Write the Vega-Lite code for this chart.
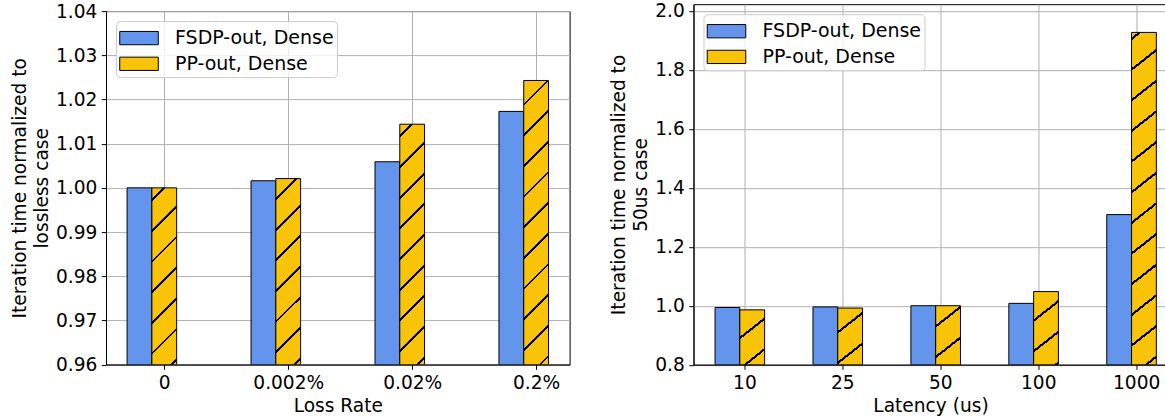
{
  "$schema": "https://vega.github.io/schema/vega-lite/v6.json",
  "padding": {"left": 9, "top": 1.2, "right": 0, "bottom": 0},
  "background": "white",
  "config": {
    "font": "DejaVu Sans",
    "view": {"stroke": "black", "strokeWidth": 1},
    "axis": {
      "labelFont": "DejaVu Sans", "labelFontSize": 18.6, "labelColor": "black",
      "titleFont": "DejaVu Sans", "titleFontSize": 18.6, "titleFontWeight": "normal", "titleColor": "black",
      "tickColor": "black", "tickSize": 4.7, "tickWidth": 1, "labelPadding": 4.5,
      "domainColor": "black", "domainWidth": 1,
      "gridColor": "#b0b0b0", "gridWidth": 1, "grid": true, "zindex": 1,
      "titleLineHeight": 22.3
    },
    "legend": {
      "orient": "top-left", "offset": 10, "title": null,
      "labelFont": "DejaVu Sans", "labelFontSize": 19, "labelColor": "black",
      "symbolType": "M-1.45,-0.5H1.45V0.5H-1.45Z", "symbolSize": 707,
      "symbolStrokeColor": "black", "symbolStrokeWidth": 1, "symbolOpacity": 1,
      "padding": 3, "rowPadding": 1.7, "labelOffset": 22, "symbolOffset": 6,
      "fillColor": "rgba(255,255,255,0.8)", "strokeColor": "#cccccc", "cornerRadius": 4
    },
    "concat": {"spacing": 37.5}
  },
  "resolve": {"scale": {"fill": "independent"}, "legend": {"fill": "independent"}},
  "hconcat": [
    {
      "spacing": -5.1,
      "resolve": {"scale": {"fill": "independent"}, "legend": {"fill": "independent"}},
      "vconcat": [
        {
          "width": 1, "height": 1,
          "data": {"values": []},
          "mark": {"type": "point"},
          "encoding": {},
          "view": {"stroke": "transparent"}
        },
        {
          "width": 463.6, "height": 353.5,
          "data": {"values": [
            {"cat": "0", "series": "FSDP-out, Dense", "value": 1.0},
            {"cat": "0", "series": "PP-out, Dense", "value": 1.0},
            {"cat": "0.002%", "series": "FSDP-out, Dense", "value": 1.0016},
            {"cat": "0.002%", "series": "PP-out, Dense", "value": 1.0021},
            {"cat": "0.02%", "series": "FSDP-out, Dense", "value": 1.0059},
            {"cat": "0.02%", "series": "PP-out, Dense", "value": 1.0144},
            {"cat": "0.2%", "series": "FSDP-out, Dense", "value": 1.0173},
            {"cat": "0.2%", "series": "PP-out, Dense", "value": 1.0243}
          ]},
          "mark": {"type": "bar", "stroke": "black", "strokeWidth": 1, "clip": true},
          "encoding": {
            "x": {"field": "cat", "type": "nominal", "sort": ["0", "0.002%", "0.02%", "0.2%"],
              "scale": {"paddingInner": 0.6, "paddingOuter": 0.17},
              "axis": {"title": "Loss Rate", "labelAngle": 0, "bandPosition": 0.5, "tickOffset": 12.4, "titlePadding": 4}},
            "xOffset": {"field": "series", "type": "nominal", "sort": ["FSDP-out, Dense", "PP-out, Dense"],
              "scale": {"paddingInner": 0, "paddingOuter": 0}},
            "y": {"field": "value", "type": "quantitative",
              "scale": {"domain": [0.96, 1.04], "nice": false, "zero": false},
              "axis": {"values": [0.96, 0.97, 0.98, 0.99, 1.0, 1.01, 1.02, 1.03, 1.04], "format": ".2f",
                "title": ["Iteration time normalized to", "lossless case"], "titlePadding": 4}},
            "y2": {"datum": 0.96},
            "fill": {
              "field": "series", "type": "nominal",
              "scale": {"domain": ["FSDP-out, Dense", "PP-out, Dense"], "range": ["#6495ED", "#F9C308"]},
              "legend": {"symbolStrokeColor": "black", "symbolStrokeWidth": 1},
              "condition": [
                {"test": "datum.series === 'PP-out, Dense' && datum.cat === '0'", "value":
                  {"gradient": "linear", "x1": 0, "y1": 0, "x2": 0.1567, "y2": 1.1182, "stops": [
                    {"offset": 0, "color": "#F9C308"},
                    {"offset": 0.0550, "color": "#F9C308"}, {"offset": 0.0550, "color": "#000000"}, {"offset": 0.0689, "color": "#000000"}, {"offset": 0.0689, "color": "#F9C308"},
                    {"offset": 0.2071, "color": "#F9C308"}, {"offset": 0.2071, "color": "#000000"}, {"offset": 0.2210, "color": "#000000"}, {"offset": 0.2210, "color": "#F9C308"},
                    {"offset": 0.3593, "color": "#F9C308"}, {"offset": 0.3593, "color": "#000000"}, {"offset": 0.3731, "color": "#000000"}, {"offset": 0.3731, "color": "#F9C308"},
                    {"offset": 0.5114, "color": "#F9C308"}, {"offset": 0.5114, "color": "#000000"}, {"offset": 0.5253, "color": "#000000"}, {"offset": 0.5253, "color": "#F9C308"},
                    {"offset": 0.6635, "color": "#F9C308"}, {"offset": 0.6635, "color": "#000000"}, {"offset": 0.6774, "color": "#000000"}, {"offset": 0.6774, "color": "#F9C308"},
                    {"offset": 0.8157, "color": "#F9C308"}, {"offset": 0.8157, "color": "#000000"}, {"offset": 0.8295, "color": "#000000"}, {"offset": 0.8295, "color": "#F9C308"},
                    {"offset": 0.9678, "color": "#F9C308"}, {"offset": 0.9678, "color": "#000000"}, {"offset": 0.9817, "color": "#000000"}, {"offset": 0.9817, "color": "#F9C308"},
                    {"offset": 1, "color": "#F9C308"}]}},
                {"test": "datum.series === 'PP-out, Dense' && datum.cat === '0.002%'", "value":
                  {"gradient": "linear", "x1": 0, "y1": 0, "x2": 0.1482, "y2": 1.1134, "stops": [
                    {"offset": 0, "color": "#F9C308"},
                    {"offset": 0.0910, "color": "#F9C308"}, {"offset": 0.0910, "color": "#000000"}, {"offset": 0.1042, "color": "#000000"}, {"offset": 0.1042, "color": "#F9C308"},
                    {"offset": 0.2364, "color": "#F9C308"}, {"offset": 0.2364, "color": "#000000"}, {"offset": 0.2496, "color": "#000000"}, {"offset": 0.2496, "color": "#F9C308"},
                    {"offset": 0.3818, "color": "#F9C308"}, {"offset": 0.3818, "color": "#000000"}, {"offset": 0.3951, "color": "#000000"}, {"offset": 0.3951, "color": "#F9C308"},
                    {"offset": 0.5272, "color": "#F9C308"}, {"offset": 0.5272, "color": "#000000"}, {"offset": 0.5405, "color": "#000000"}, {"offset": 0.5405, "color": "#F9C308"},
                    {"offset": 0.6727, "color": "#F9C308"}, {"offset": 0.6727, "color": "#000000"}, {"offset": 0.6859, "color": "#000000"}, {"offset": 0.6859, "color": "#F9C308"},
                    {"offset": 0.8181, "color": "#F9C308"}, {"offset": 0.8181, "color": "#000000"}, {"offset": 0.8313, "color": "#000000"}, {"offset": 0.8313, "color": "#F9C308"},
                    {"offset": 0.9635, "color": "#F9C308"}, {"offset": 0.9635, "color": "#000000"}, {"offset": 0.9768, "color": "#000000"}, {"offset": 0.9768, "color": "#F9C308"},
                    {"offset": 1, "color": "#F9C308"}]}},
                {"test": "datum.series === 'PP-out, Dense' && datum.cat === '0.02%'", "value":
                  {"gradient": "linear", "x1": 0, "y1": 0, "x2": 0.1125, "y2": 1.0914, "stops": [
                    {"offset": 0, "color": "#F9C308"},
                    {"offset": 0.0414, "color": "#F9C308"}, {"offset": 0.0414, "color": "#000000"}, {"offset": 0.0520, "color": "#000000"}, {"offset": 0.0520, "color": "#F9C308"},
                    {"offset": 0.1571, "color": "#F9C308"}, {"offset": 0.1571, "color": "#000000"}, {"offset": 0.1676, "color": "#000000"}, {"offset": 0.1676, "color": "#F9C308"},
                    {"offset": 0.2727, "color": "#F9C308"}, {"offset": 0.2727, "color": "#000000"}, {"offset": 0.2832, "color": "#000000"}, {"offset": 0.2832, "color": "#F9C308"},
                    {"offset": 0.3883, "color": "#F9C308"}, {"offset": 0.3883, "color": "#000000"}, {"offset": 0.3989, "color": "#000000"}, {"offset": 0.3989, "color": "#F9C308"},
                    {"offset": 0.5040, "color": "#F9C308"}, {"offset": 0.5040, "color": "#000000"}, {"offset": 0.5145, "color": "#000000"}, {"offset": 0.5145, "color": "#F9C308"},
                    {"offset": 0.6196, "color": "#F9C308"}, {"offset": 0.6196, "color": "#000000"}, {"offset": 0.6301, "color": "#000000"}, {"offset": 0.6301, "color": "#F9C308"},
                    {"offset": 0.7352, "color": "#F9C308"}, {"offset": 0.7352, "color": "#000000"}, {"offset": 0.7458, "color": "#000000"}, {"offset": 0.7458, "color": "#F9C308"},
                    {"offset": 0.8508, "color": "#F9C308"}, {"offset": 0.8508, "color": "#000000"}, {"offset": 0.8614, "color": "#000000"}, {"offset": 0.8614, "color": "#F9C308"},
                    {"offset": 0.9665, "color": "#F9C308"}, {"offset": 0.9665, "color": "#000000"}, {"offset": 0.9770, "color": "#000000"}, {"offset": 0.9770, "color": "#F9C308"},
                    {"offset": 1, "color": "#F9C308"}]}},
                {"test": "datum.series === 'PP-out, Dense' && datum.cat === '0.2%'", "value":
                  {"gradient": "linear", "x1": 0, "y1": 0, "x2": 0.0941, "y2": 1.0790, "stops": [
                    {"offset": 0, "color": "#F9C308"},
                    {"offset": 0.0740, "color": "#F9C308"}, {"offset": 0.0740, "color": "#000000"}, {"offset": 0.0831, "color": "#000000"}, {"offset": 0.0831, "color": "#F9C308"},
                    {"offset": 0.1733, "color": "#F9C308"}, {"offset": 0.1733, "color": "#000000"}, {"offset": 0.1823, "color": "#000000"}, {"offset": 0.1823, "color": "#F9C308"},
                    {"offset": 0.2726, "color": "#F9C308"}, {"offset": 0.2726, "color": "#000000"}, {"offset": 0.2816, "color": "#000000"}, {"offset": 0.2816, "color": "#F9C308"},
                    {"offset": 0.3718, "color": "#F9C308"}, {"offset": 0.3718, "color": "#000000"}, {"offset": 0.3809, "color": "#000000"}, {"offset": 0.3809, "color": "#F9C308"},
                    {"offset": 0.4711, "color": "#F9C308"}, {"offset": 0.4711, "color": "#000000"}, {"offset": 0.4801, "color": "#000000"}, {"offset": 0.4801, "color": "#F9C308"},
                    {"offset": 0.5703, "color": "#F9C308"}, {"offset": 0.5703, "color": "#000000"}, {"offset": 0.5794, "color": "#000000"}, {"offset": 0.5794, "color": "#F9C308"},
                    {"offset": 0.6696, "color": "#F9C308"}, {"offset": 0.6696, "color": "#000000"}, {"offset": 0.6786, "color": "#000000"}, {"offset": 0.6786, "color": "#F9C308"},
                    {"offset": 0.7688, "color": "#F9C308"}, {"offset": 0.7688, "color": "#000000"}, {"offset": 0.7779, "color": "#000000"}, {"offset": 0.7779, "color": "#F9C308"},
                    {"offset": 0.8681, "color": "#F9C308"}, {"offset": 0.8681, "color": "#000000"}, {"offset": 0.8771, "color": "#000000"}, {"offset": 0.8771, "color": "#F9C308"},
                    {"offset": 0.9673, "color": "#F9C308"}, {"offset": 0.9673, "color": "#000000"}, {"offset": 0.9764, "color": "#000000"}, {"offset": 0.9764, "color": "#F9C308"},
                    {"offset": 1, "color": "#F9C308"}]}}
              ]
            }
          }
        }
      ]
    },
    {
      "width": 474, "height": 360.5,
      "data": {"values": [
        {"cat": "10", "series": "FSDP-out, Dense", "value": 0.994},
        {"cat": "10", "series": "PP-out, Dense", "value": 0.986},
        {"cat": "25", "series": "FSDP-out, Dense", "value": 0.996},
        {"cat": "25", "series": "PP-out, Dense", "value": 0.992},
        {"cat": "50", "series": "FSDP-out, Dense", "value": 1.0},
        {"cat": "50", "series": "PP-out, Dense", "value": 1.0},
        {"cat": "100", "series": "FSDP-out, Dense", "value": 1.008},
        {"cat": "100", "series": "PP-out, Dense", "value": 1.048},
        {"cat": "1000", "series": "FSDP-out, Dense", "value": 1.309},
        {"cat": "1000", "series": "PP-out, Dense", "value": 1.927}
      ]},
      "mark": {"type": "bar", "stroke": "black", "strokeWidth": 1, "clip": true},
      "encoding": {
        "x": {"field": "cat", "type": "nominal", "sort": ["10", "25", "50", "100", "1000"],
          "scale": {"paddingInner": 0.6, "paddingOuter": 0.22},
          "axis": {"title": "Latency (us)", "labelAngle": 0, "bandPosition": 0.5, "tickOffset": 9.8, "titlePadding": 4}},
        "xOffset": {"field": "series", "type": "nominal", "sort": ["FSDP-out, Dense", "PP-out, Dense"],
          "scale": {"paddingInner": 0, "paddingOuter": 0}},
        "y": {"field": "value", "type": "quantitative",
          "scale": {"domain": [0.8, 2.0227], "nice": false, "zero": false},
          "axis": {"values": [0.8, 1.0, 1.2, 1.4, 1.6, 1.8, 2.0], "format": ".1f",
            "title": ["Iteration time normalized to", "50us case"], "titlePadding": 4}},
        "y2": {"datum": 0.8},
        "fill": {
          "field": "series", "type": "nominal",
          "scale": {"domain": ["FSDP-out, Dense", "PP-out, Dense"], "range": ["#6495ED", "#F9C308"]},
          "legend": {"symbolStrokeColor": "black", "symbolStrokeWidth": 1},
          "condition": [
            {"test": "datum.series === 'PP-out, Dense' && datum.cat === '10'", "value":
              {"gradient": "linear", "x1": 0, "y1": 0, "x2": 0.4295, "y2": 1.2037, "stops": [
                {"offset": 0, "color": "#F9C308"},
                {"offset": 0.3611, "color": "#F9C308"}, {"offset": 0.3611, "color": "#000000"}, {"offset": 0.3987, "color": "#000000"}, {"offset": 0.3987, "color": "#F9C308"},
                {"offset": 0.7732, "color": "#F9C308"}, {"offset": 0.7732, "color": "#000000"}, {"offset": 0.8107, "color": "#000000"}, {"offset": 0.8107, "color": "#F9C308"},
                {"offset": 1, "color": "#F9C308"}]}},
            {"test": "datum.series === 'PP-out, Dense' && datum.cat === '25'", "value":
              {"gradient": "linear", "x1": 0, "y1": 0, "x2": 0.4154, "y2": 1.2022, "stops": [
                {"offset": 0, "color": "#F9C308"},
                {"offset": 0.3001, "color": "#F9C308"}, {"offset": 0.3001, "color": "#000000"}, {"offset": 0.3368, "color": "#000000"}, {"offset": 0.3368, "color": "#F9C308"},
                {"offset": 0.7025, "color": "#F9C308"}, {"offset": 0.7025, "color": "#000000"}, {"offset": 0.7392, "color": "#000000"}, {"offset": 0.7392, "color": "#F9C308"},
                {"offset": 1, "color": "#F9C308"}]}},
            {"test": "datum.series === 'PP-out, Dense' && datum.cat === '50'", "value":
              {"gradient": "linear", "x1": 0, "y1": 0, "x2": 0.3978, "y2": 1.1991, "stops": [
                {"offset": 0, "color": "#F9C308"},
                {"offset": 0.2462, "color": "#F9C308"}, {"offset": 0.2462, "color": "#000000"}, {"offset": 0.2818, "color": "#000000"}, {"offset": 0.2818, "color": "#F9C308"},
                {"offset": 0.6368, "color": "#F9C308"}, {"offset": 0.6368, "color": "#000000"}, {"offset": 0.6724, "color": "#000000"}, {"offset": 0.6724, "color": "#F9C308"},
                {"offset": 1, "color": "#F9C308"}]}},
            {"test": "datum.series === 'PP-out, Dense' && datum.cat === '100'", "value":
              {"gradient": "linear", "x1": 0, "y1": 0, "x2": 0.3166, "y2": 1.1831, "stops": [
                {"offset": 0, "color": "#F9C308"},
                {"offset": 0.2985, "color": "#F9C308"}, {"offset": 0.2985, "color": "#000000"}, {"offset": 0.3287, "color": "#000000"}, {"offset": 0.3287, "color": "#F9C308"},
                {"offset": 0.6293, "color": "#F9C308"}, {"offset": 0.6293, "color": "#000000"}, {"offset": 0.6595, "color": "#000000"}, {"offset": 0.6595, "color": "#F9C308"},
                {"offset": 0.9601, "color": "#F9C308"}, {"offset": 0.9601, "color": "#000000"}, {"offset": 0.9903, "color": "#000000"}, {"offset": 0.9903, "color": "#F9C308"},
                {"offset": 1, "color": "#F9C308"}]}},
            {"test": "datum.series === 'PP-out, Dense' && datum.cat === '1000'", "value":
              {"gradient": "linear", "x1": 0, "y1": 0, "x2": 0.0621, "y2": 1.0551, "stops": [
                {"offset": 0, "color": "#F9C308"},
                {"offset": 0.0146, "color": "#F9C308"}, {"offset": 0.0146, "color": "#000000"}, {"offset": 0.0226, "color": "#000000"}, {"offset": 0.0226, "color": "#F9C308"},
                {"offset": 0.1018, "color": "#F9C308"}, {"offset": 0.1018, "color": "#000000"}, {"offset": 0.1097, "color": "#000000"}, {"offset": 0.1097, "color": "#F9C308"},
                {"offset": 0.1889, "color": "#F9C308"}, {"offset": 0.1889, "color": "#000000"}, {"offset": 0.1968, "color": "#000000"}, {"offset": 0.1968, "color": "#F9C308"},
                {"offset": 0.2760, "color": "#F9C308"}, {"offset": 0.2760, "color": "#000000"}, {"offset": 0.2840, "color": "#000000"}, {"offset": 0.2840, "color": "#F9C308"},
                {"offset": 0.3632, "color": "#F9C308"}, {"offset": 0.3632, "color": "#000000"}, {"offset": 0.3711, "color": "#000000"}, {"offset": 0.3711, "color": "#F9C308"},
                {"offset": 0.4503, "color": "#F9C308"}, {"offset": 0.4503, "color": "#000000"}, {"offset": 0.4583, "color": "#000000"}, {"offset": 0.4583, "color": "#F9C308"},
                {"offset": 0.5375, "color": "#F9C308"}, {"offset": 0.5375, "color": "#000000"}, {"offset": 0.5454, "color": "#000000"}, {"offset": 0.5454, "color": "#F9C308"},
                {"offset": 0.6246, "color": "#F9C308"}, {"offset": 0.6246, "color": "#000000"}, {"offset": 0.6326, "color": "#000000"}, {"offset": 0.6326, "color": "#F9C308"},
                {"offset": 0.7117, "color": "#F9C308"}, {"offset": 0.7117, "color": "#000000"}, {"offset": 0.7197, "color": "#000000"}, {"offset": 0.7197, "color": "#F9C308"},
                {"offset": 0.7989, "color": "#F9C308"}, {"offset": 0.7989, "color": "#000000"}, {"offset": 0.8069, "color": "#000000"}, {"offset": 0.8069, "color": "#F9C308"},
                {"offset": 0.8860, "color": "#F9C308"}, {"offset": 0.8860, "color": "#000000"}, {"offset": 0.8940, "color": "#000000"}, {"offset": 0.8940, "color": "#F9C308"},
                {"offset": 0.9732, "color": "#F9C308"}, {"offset": 0.9732, "color": "#000000"}, {"offset": 0.9811, "color": "#000000"}, {"offset": 0.9811, "color": "#F9C308"},
                {"offset": 1, "color": "#F9C308"}]}}
          ]
        }
      }
    }
  ]
}
